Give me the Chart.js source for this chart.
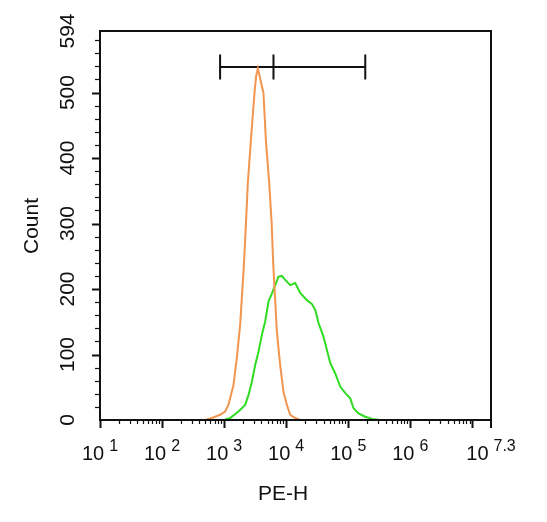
<!DOCTYPE html>
<html>
<head>
<meta charset="utf-8">
<script src="https://cdn.jsdelivr.net/npm/chart.js@4/dist/chart.umd.min.js"></script>
<style>
  body { margin: 0; background: #fff; }
  canvas { display: block; }
</style>
</head>
<body>
<canvas id="myChart" width="547" height="522"></canvas>
<script>
// x axis runs 10^1 .. 10^7.3, labels drawn as 10 + exponent
var xExponents = [1, 2, 3, 4, 5, 6, 7.3]
var yTickValues = [0, 100, 200, 300, 400, 500, 594]

// orange histogram (control)
var orangeX = [300, 494, 634, 861, 1038, 1172, 1413, 1603, 1811, 1928, 2063, 2183, 2410, 2698, 3083, 3281, 3499,
               3741, 4305, 4710, 5321, 5834, 6166, 6531, 7079, 7998, 9036, 10250, 11610, 13960, 16830, 30000]
var orangeY = [0, 0, 3, 8, 13, 23, 53, 95, 145, 186, 230, 275, 362, 427, 499, 525, 537,
               525, 499, 427, 362, 300, 240, 196, 135, 84, 43, 23, 8, 3, 0, 0]

// green histogram (stained)
var greenX = [800, 1000, 1250, 1702, 2183, 2466, 2798, 3162, 3575, 4055, 4581, 5188, 5875, 6653, 7516, 8531,
              9638, 11610, 13960, 16830, 21580, 26000, 29380, 33200, 39990, 45290, 51290, 61660, 74300,
              89540, 107700, 121600, 146500, 187800, 255900, 328100, 600000]
var greenY = [0, 0, 3, 13, 23, 38, 58, 84, 104, 130, 150, 181, 193, 206, 219, 220,
              214, 206, 209, 194, 183, 177, 168, 148, 127, 107, 87, 71, 51,
              41, 33, 18, 10, 5, 1, 0, 0]

// gate marker
var gateX = [861, 6240, 188000]
var gateCount = 539
var gateCap = 19

var orangeColor = "#f2954f"
var greenColor = "#2fdc22"
var fontName = '"Liberation Sans", Arial, sans-serif'

function points(xs, ys) {
    var out = []
    for (var i = 0; i < xs.length; i++) out.push({x: xs[i], y: ys[i]})
    return out
}

var gatePoints = [
    {x: gateX[0], y: gateCount}, {x: gateX[2], y: gateCount}, {x: gateX[2], y: null}
]
for (var g = 0; g < gateX.length; g++) {
    gatePoints.push({x: gateX[g], y: gateCount - gateCap})
    gatePoints.push({x: gateX[g], y: gateCount + gateCap})
    gatePoints.push({x: gateX[g], y: null})
}

var axisPlugin = {
    id: "axisPlugin",
    afterDraw: function(chart) {
        var ctx = chart.ctx
        var a = chart.chartArea
        var xs = chart.scales.x
        var ys = chart.scales.y
        ctx.save()
        ctx.strokeStyle = "#111"
        ctx.fillStyle = "#111"

        // frame
        ctx.lineWidth = 2
        ctx.strokeRect(a.left, a.top, a.right - a.left, a.bottom - a.top)

        // y ticks: major every 100, minor every 20
        for (var v = 20; v < 594; v += 20) {
            var py = Math.round(ys.getPixelForValue(v)) + 0.5
            var major = v % 100 == 0
            ctx.lineWidth = major ? 2 : 1.2
            ctx.beginPath()
            ctx.moveTo(a.left - (major ? 8 : 5), py)
            ctx.lineTo(a.left, py)
            ctx.stroke()
        }

        // x ticks: decades major, 2..9 minor
        for (var k = 1; k <= 7; k++) {
            for (var m = 1; m <= 9; m++) {
                var val = m * Math.pow(10, k)
                if (val > xs.max) break
                var px = Math.round(xs.getPixelForValue(val)) + 0.5
                var isMajor = m == 1
                ctx.lineWidth = isMajor ? 2 : 1.2
                ctx.beginPath()
                ctx.moveTo(px, a.bottom)
                ctx.lineTo(px, a.bottom + (isMajor ? 8 : 4))
                ctx.stroke()
            }
        }
        ctx.lineWidth = 2
        ctx.beginPath()
        ctx.moveTo(a.right, a.bottom)
        ctx.lineTo(a.right, a.bottom + 8)
        ctx.stroke()

        // x tick labels
        for (var i = 0; i < xExponents.length; i++) {
            var tx = xs.getPixelForValue(Math.pow(10, xExponents[i]))
            ctx.font = "20px " + fontName
            var wb = ctx.measureText("10").width
            ctx.font = "16px " + fontName
            var exp = String(xExponents[i])
            var we = ctx.measureText(exp).width
            var start = tx - (wb + 5 + we) / 2
            ctx.textAlign = "left"
            ctx.font = "20px " + fontName
            ctx.fillText("10", start, 460)
            ctx.font = "16px " + fontName
            ctx.fillText(exp, start + wb + 5, 451)
        }

        // y tick labels, rotated
        ctx.font = "21px " + fontName
        ctx.textAlign = "center"
        for (var j = 0; j < yTickValues.length; j++) {
            var ty = ys.getPixelForValue(yTickValues[j])
            ctx.save()
            ctx.translate(74, ty)
            ctx.rotate(-Math.PI / 2)
            ctx.fillText(String(yTickValues[j]), 0, 0)
            ctx.restore()
        }

        // axis titles
        ctx.font = "21px " + fontName
        ctx.save()
        ctx.translate(38, 226)
        ctx.rotate(-Math.PI / 2)
        ctx.fillText("Count", 0, 0)
        ctx.restore()
        ctx.fillText("PE-H", 283, 500)

        ctx.restore()
    }
}

var myChart = new Chart("myChart", {
    type: "line",
    data: {
        datasets: [{
            data: points(orangeX, orangeY),
            borderColor: orangeColor,
            borderWidth: 2,
            pointRadius: 0,
            tension: 0
        }, {
            data: points(greenX, greenY),
            borderColor: greenColor,
            borderWidth: 2,
            pointRadius: 0,
            tension: 0
        }, {
            data: gatePoints,
            borderColor: "#111",
            borderWidth: 2,
            pointRadius: 0,
            spanGaps: false
        }]
    },
    options: {
        responsive: false,
        animation: false,
        layout: { padding: { top: 31, right: 56, left: 0, bottom: 0 } },
        plugins: { legend: { display: false }, tooltip: { enabled: false } },
        scales: {
            x: {
                type: "logarithmic",
                min: 10,
                max: Math.pow(10, 7.3),
                grid: { display: false },
                border: { display: false },
                ticks: { display: false },
                afterFit: function(s) { s.height = 102 }
            },
            y: {
                type: "linear",
                min: 0,
                max: 594,
                grid: { display: false },
                border: { display: false },
                ticks: { display: false },
                afterFit: function(s) { s.width = 100 }
            }
        }
    },
    plugins: [axisPlugin]
})
</script>
</body>
</html>
